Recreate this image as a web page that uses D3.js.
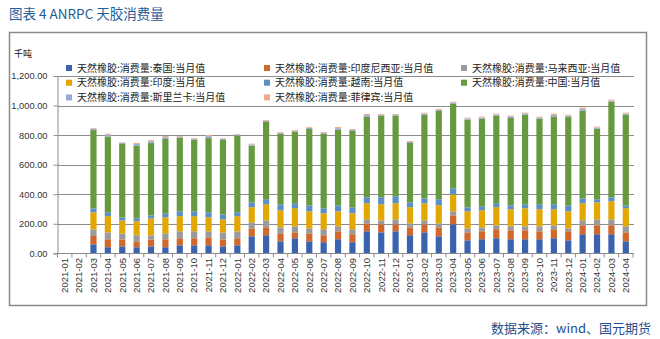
<!DOCTYPE html>
<html><head><meta charset="utf-8">
<script src="https://cdn.jsdelivr.net/npm/d3@7"></script>
<style>
html,body{margin:0;padding:0;background:#fff;}
svg{display:block;}
</style></head>
<body><svg id="c" width="660" height="339"></svg>
<script>
const months = ["2021-01","2021-02","2021-03","2021-04","2021-05","2021-06","2021-07","2021-08","2021-09","2021-10","2021-11","2021-12",
"2022-01","2022-02","2022-03","2022-04","2022-05","2022-06","2022-07","2022-08","2022-09","2022-10","2022-11","2022-12",
"2023-01","2023-02","2023-03","2023-04","2023-05","2023-06","2023-07","2023-08","2023-09","2023-10","2023-11","2023-12",
"2024-01","2024-02","2024-03","2024-04"];
const seriesNames = ["天然橡胶:消费量:泰国:当月值","天然橡胶:消费量:印度尼西亚:当月值","天然橡胶:消费量:马来西亚:当月值",
"天然橡胶:消费量:印度:当月值","天然橡胶:消费量:越南:当月值","天然橡胶:消费量:中国:当月值",
"天然橡胶:消费量:斯里兰卡:当月值","天然橡胶:消费量:菲律宾:当月值"];
const thailand  = [null,null,61,41,47,41,47,41,54,54,54,47, 54,115,122,81,102,81,75,95,75,149,142,149, 122,142,115,196,88,95,102,95,95,95,102,88, 129,129,129,81];
const indonesia = [null,null,56,54,47,40,47,54,48,48,54,47, 48,54,54,54,40,54,47,54,54,54,54,47, 54,54,61,61,54,54,61,61,61,54,61,61, 61,61,61,61];
const malaysia  = [null,null,45,47,40,41,27,40,47,47,41,47, 47,41,47,41,41,34,41,34,34,27,27,34, 27,27,27,27,27,27,27,27,27,34,27,20, 34,40,40,41];
const india     = [null,null,115,109,88,95,115,109,102,102,95,88, 102,102,109,115,122,115,108,101,108,109,109,109, 109,115,122,115,115,115,122,115,122,115,108,115, 115,115,122,122];
const vietnam   = [null,null,27,27,20,20,20,27,33,33,34,34, 27,33,34,41,34,39,34,39,38,40,47,47, 33,34,41,41,27,27,27,27,27,34,34,39, 33,21,27,18];
const china     = [null,null,530,512,498,491,490,503,499,485,502,505, 518,383,523,478,484,518,505,512,519,544,553,546, 402,566,597,571,594,593,593,591,606,579,593,602, 594,477,647,615];
const sriLanka  = [null,null,8,12,7,12,12,12,6,6,13,6, 6,8,7,6,7,8,6,12,7,12,6,6, 7,8,8,9,7,8,7,10,8,8,12,7, 12,8,8,8];
const philippines=[null,null,5,8,4,7,8,8,5,5,8,5, 5,6,6,5,5,6,5,8,6,8,5,5, 6,6,6,6,6,6,6,6,6,6,8,6, 8,6,6,6];
const yTicks = [0,200,400,600,800,1000,1200];
const colors = ["#3a62ae","#d1672b","#9a9a9a","#e2a700","#5b8fc6","#67993e","#97a9d8","#f2a98b"];

const allSeries = [thailand,indonesia,malaysia,india,vietnam,china,sriLanka,philippines];
const rows = months.map((m,i)=>{const o={month:m}; seriesNames.forEach((s,k)=>o[s]=allSeries[k][i]||0); return o;});

const svg = d3.select("#c");
// frame
svg.append("rect").attr("x",9.5).attr("y",32.5).attr("width",637).attr("height",273)
  .attr("fill","none").attr("stroke","#8a8a8a").attr("stroke-width",1.5);
// title
svg.append("text").attr("x",9).attr("y",19).attr("font-family","'Noto Sans CJK SC'").attr("font-size",13.5)
  .attr("fill","#1f5c9a").text("图表 4 ANRPC 天胶消费量");
svg.append("text").attr("x",14).attr("y",57).attr("font-family","'Noto Sans CJK SC'").attr("font-size",9)
  .attr("fill","#111").text("千吨");
svg.append("text").attr("x",651).attr("y",333).attr("text-anchor","end").attr("font-family","'Noto Sans CJK SC'")
  .attr("font-size",13).attr("fill","#1f4e8c").text("数据来源：wind、国元期货");

const x = d3.scaleBand().domain(months).range([57.5,633]).paddingInner(0.57).paddingOuter(0.285);
const y = d3.scaleLinear().domain([0,1200]).range([253.3,76]);

// gridlines
svg.append("g").selectAll("line").data(yTicks.filter(d=>d>0)).join("line")
  .attr("x1",57.5).attr("x2",634).attr("y1",d=>Math.round(y(d))+0.5).attr("y2",d=>Math.round(y(d))+0.5)
  .attr("stroke","#8c8c8c").attr("stroke-width",1);

// y axis
const yAxis = svg.append("g").attr("transform","translate(57.5,0)")
  .call(d3.axisLeft(y).tickValues(yTicks).tickFormat(d3.format(",.2f")).tickSize(4).tickPadding(6));
yAxis.select(".domain").attr("stroke","#8c8c8c");
yAxis.selectAll(".tick line").attr("stroke","#8c8c8c");
yAxis.selectAll("text").attr("font-family","'Liberation Sans',Arial").attr("font-size",9.3).attr("fill","#333");

// bars
const stack = d3.stack().keys(seriesNames)(rows);
svg.append("g").selectAll("g").data(stack).join("g").attr("fill",(d,i)=>colors[i])
  .selectAll("rect").data(d=>d).join("rect")
  .attr("x",d=>x(d.data.month)).attr("width",x.bandwidth())
  .attr("y",d=>y(d[1])).attr("height",d=>Math.max(0,y(d[0])-y(d[1])));

// x axis
const step = x.step();
const xg = svg.append("g");
xg.append("line").attr("x1",57.5).attr("x2",634).attr("y1",253.5).attr("y2",253.5).attr("stroke","#8c8c8c");
xg.selectAll("line.t").data(d3.range(months.length+1)).join("line").attr("class","t")
  .attr("x1",i=>57.5+i*step).attr("x2",i=>57.5+i*step).attr("y1",253.5).attr("y2",257.5).attr("stroke","#8c8c8c");
xg.selectAll("text").data(months).join("text")
  .attr("transform",d=>`translate(${x(d)+x.bandwidth()/2+3.3},258) rotate(-90)`)
  .attr("text-anchor","end").attr("font-family","'Liberation Sans',Arial").attr("font-size",9.5).attr("fill","#333").text(d=>d);

// legend
const legPos = [[66,68],[264,68],[461,68],[66,82.7],[264,82.7],[461,82.7],[66,97.4],[264,97.4]];
const lg = svg.append("g");
seriesNames.forEach((s,i)=>{
  const [lx,ly]=legPos[i];
  lg.append("rect").attr("x",lx).attr("y",ly-3).attr("width",6).attr("height",6).attr("fill",colors[i]);
  lg.append("text").attr("x",lx+11).attr("y",ly+3.5).attr("font-family","'Noto Sans CJK SC'").attr("font-size",10)
    .attr("fill","#222").text(s);
});
</script></body></html>
